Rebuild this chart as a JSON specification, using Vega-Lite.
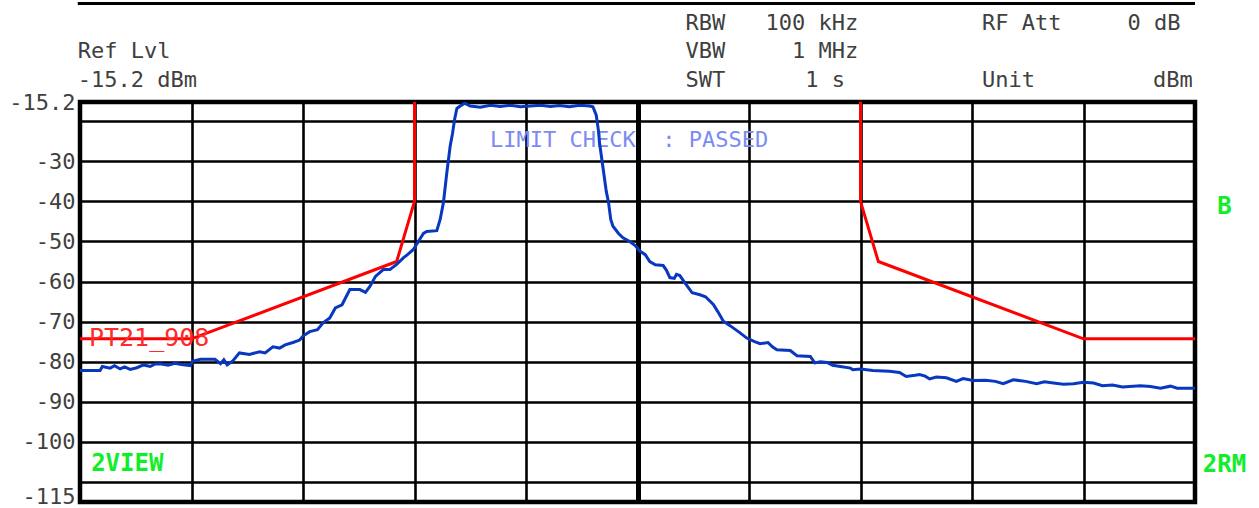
{
  "$schema": "https://vega.github.io/schema/vega-lite/v6.json",
  "autosize": {"type": "none"},
  "width": 1115,
  "height": 400,
  "padding": {"left": 80, "top": 102, "right": 64, "bottom": 6},
  "background": "white",
  "config": {
    "view": {"stroke": "black", "strokeWidth": 4.5},
    "font": "DejaVu Sans Mono"
  },
  "datasets": {
    "trace": [
      {"i":1,"div":0,"dbm":-82.2},{"i":2,"div":0.18,"dbm":-82.2},{"i":3,"div":0.2,"dbm":-81.2},{"i":4,"div":0.27,"dbm":-81.6},
      {"i":5,"div":0.31,"dbm":-81.0},{"i":6,"div":0.36,"dbm":-81.8},{"i":7,"div":0.4,"dbm":-81.3},{"i":8,"div":0.45,"dbm":-81.9},
      {"i":9,"div":0.51,"dbm":-81.5},{"i":10,"div":0.57,"dbm":-80.8},{"i":11,"div":0.63,"dbm":-81.2},{"i":12,"div":0.67,"dbm":-80.6},
      {"i":13,"div":0.72,"dbm":-80.5},{"i":14,"div":0.79,"dbm":-80.9},{"i":15,"div":0.85,"dbm":-80.4},{"i":16,"div":0.91,"dbm":-80.7},
      {"i":17,"div":0.99,"dbm":-81.0},{"i":18,"div":1.01,"dbm":-79.9},{"i":19,"div":1.08,"dbm":-79.4},{"i":20,"div":1.21,"dbm":-79.4},
      {"i":21,"div":1.26,"dbm":-80.5},{"i":22,"div":1.29,"dbm":-79.5},{"i":23,"div":1.32,"dbm":-80.8},{"i":24,"div":1.37,"dbm":-79.8},
      {"i":25,"div":1.43,"dbm":-77.8},{"i":26,"div":1.52,"dbm":-78.2},{"i":27,"div":1.61,"dbm":-77.5},{"i":28,"div":1.66,"dbm":-77.8},
      {"i":29,"div":1.73,"dbm":-76.3},{"i":30,"div":1.79,"dbm":-76.6},{"i":31,"div":1.84,"dbm":-75.8},{"i":32,"div":1.91,"dbm":-75.2},
      {"i":33,"div":1.97,"dbm":-74.6},{"i":34,"div":2.0,"dbm":-73.6},{"i":35,"div":2.06,"dbm":-72.5},{"i":36,"div":2.13,"dbm":-72.0},
      {"i":37,"div":2.18,"dbm":-70.3},{"i":38,"div":2.24,"dbm":-69.1},{"i":39,"div":2.29,"dbm":-66.6},{"i":40,"div":2.35,"dbm":-65.8},
      {"i":41,"div":2.42,"dbm":-62.0},{"i":42,"div":2.51,"dbm":-62.0},{"i":43,"div":2.56,"dbm":-62.7},{"i":44,"div":2.6,"dbm":-61.2},
      {"i":45,"div":2.65,"dbm":-58.7},{"i":46,"div":2.72,"dbm":-57.0},{"i":47,"div":2.78,"dbm":-57.0},{"i":48,"div":2.84,"dbm":-55.7},
      {"i":49,"div":2.9,"dbm":-54.1},{"i":50,"div":2.94,"dbm":-53.2},{"i":51,"div":2.99,"dbm":-52.0},{"i":52,"div":3.05,"dbm":-49.3},
      {"i":53,"div":3.08,"dbm":-48.0},{"i":54,"div":3.11,"dbm":-47.5},{"i":55,"div":3.2,"dbm":-47.3},{"i":56,"div":3.23,"dbm":-44.5},
      {"i":57,"div":3.26,"dbm":-40.2},{"i":58,"div":3.29,"dbm":-32.8},{"i":59,"div":3.32,"dbm":-26.2},{"i":60,"div":3.34,"dbm":-23.2},
      {"i":61,"div":3.36,"dbm":-19.5},{"i":62,"div":3.38,"dbm":-16.8},{"i":63,"div":3.41,"dbm":-16.2},{"i":64,"div":3.45,"dbm":-15.5},
      {"i":65,"div":3.5,"dbm":-16.2},{"i":66,"div":3.59,"dbm":-16.5},{"i":67,"div":3.68,"dbm":-16.0},{"i":68,"div":3.77,"dbm":-16.3},
      {"i":69,"div":3.86,"dbm":-16.0},{"i":70,"div":3.95,"dbm":-16.4},{"i":71,"div":4.04,"dbm":-16.2},{"i":72,"div":4.13,"dbm":-16.0},
      {"i":73,"div":4.22,"dbm":-16.3},{"i":74,"div":4.3,"dbm":-16.1},{"i":75,"div":4.39,"dbm":-16.4},{"i":76,"div":4.48,"dbm":-16.0},
      {"i":77,"div":4.57,"dbm":-16.2},{"i":78,"div":4.6,"dbm":-16.4},{"i":79,"div":4.63,"dbm":-18.5},{"i":80,"div":4.65,"dbm":-22.4},
      {"i":81,"div":4.66,"dbm":-25.5},{"i":82,"div":4.69,"dbm":-31.5},{"i":83,"div":4.72,"dbm":-37.5},{"i":84,"div":4.74,"dbm":-40.2},
      {"i":85,"div":4.76,"dbm":-44.5},{"i":86,"div":4.78,"dbm":-46.2},{"i":87,"div":4.83,"dbm":-48.0},{"i":88,"div":4.87,"dbm":-49.1},
      {"i":89,"div":4.93,"dbm":-50.0},{"i":90,"div":4.98,"dbm":-51.0},{"i":91,"div":5.02,"dbm":-52.4},{"i":92,"div":5.07,"dbm":-53.3},
      {"i":93,"div":5.11,"dbm":-55.0},{"i":94,"div":5.16,"dbm":-55.8},{"i":95,"div":5.23,"dbm":-56.0},{"i":96,"div":5.26,"dbm":-57.2},
      {"i":97,"div":5.29,"dbm":-59.0},{"i":98,"div":5.33,"dbm":-59.2},{"i":99,"div":5.35,"dbm":-58.2},{"i":100,"div":5.38,"dbm":-58.5},
      {"i":101,"div":5.43,"dbm":-60.5},{"i":102,"div":5.49,"dbm":-62.8},{"i":103,"div":5.56,"dbm":-63.3},{"i":104,"div":5.61,"dbm":-63.8},
      {"i":105,"div":5.68,"dbm":-65.7},{"i":106,"div":5.72,"dbm":-67.5},{"i":107,"div":5.77,"dbm":-69.9},{"i":108,"div":5.83,"dbm":-71.0},
      {"i":109,"div":5.92,"dbm":-72.8},{"i":110,"div":5.98,"dbm":-74.1},{"i":111,"div":6.05,"dbm":-75.0},{"i":112,"div":6.1,"dbm":-75.5},
      {"i":113,"div":6.17,"dbm":-75.2},{"i":114,"div":6.21,"dbm":-76.3},{"i":115,"div":6.25,"dbm":-77.0},{"i":116,"div":6.37,"dbm":-77.2},
      {"i":117,"div":6.43,"dbm":-78.5},{"i":118,"div":6.55,"dbm":-78.7},{"i":119,"div":6.59,"dbm":-80.3},{"i":120,"div":6.64,"dbm":-80.0},
      {"i":121,"div":6.7,"dbm":-80.2},{"i":122,"div":6.75,"dbm":-80.9},{"i":123,"div":6.82,"dbm":-81.2},{"i":124,"div":6.91,"dbm":-81.6},
      {"i":125,"div":6.93,"dbm":-82.0},{"i":126,"div":7.0,"dbm":-81.8},{"i":127,"div":7.11,"dbm":-82.2},{"i":128,"div":7.26,"dbm":-82.4},
      {"i":129,"div":7.35,"dbm":-82.7},{"i":130,"div":7.41,"dbm":-83.7},{"i":131,"div":7.49,"dbm":-83.4},{"i":132,"div":7.53,"dbm":-83.2},
      {"i":133,"div":7.58,"dbm":-83.6},{"i":134,"div":7.62,"dbm":-84.3},{"i":135,"div":7.68,"dbm":-83.8},{"i":136,"div":7.77,"dbm":-84.0},
      {"i":137,"div":7.86,"dbm":-84.9},{"i":138,"div":7.92,"dbm":-84.2},{"i":139,"div":8.01,"dbm":-84.7},{"i":140,"div":8.12,"dbm":-84.6},
      {"i":141,"div":8.21,"dbm":-84.9},{"i":142,"div":8.28,"dbm":-85.5},{"i":143,"div":8.37,"dbm":-84.5},{"i":144,"div":8.48,"dbm":-84.9},
      {"i":145,"div":8.58,"dbm":-85.5},{"i":146,"div":8.65,"dbm":-85.0},{"i":147,"div":8.73,"dbm":-85.3},{"i":148,"div":8.82,"dbm":-85.6},
      {"i":149,"div":8.91,"dbm":-85.5},{"i":150,"div":9.0,"dbm":-85.1},{"i":151,"div":9.09,"dbm":-85.3},{"i":152,"div":9.17,"dbm":-86.0},
      {"i":153,"div":9.26,"dbm":-85.8},{"i":154,"div":9.35,"dbm":-86.3},{"i":155,"div":9.51,"dbm":-86.0},{"i":156,"div":9.6,"dbm":-86.2},
      {"i":157,"div":9.69,"dbm":-86.6},{"i":158,"div":9.78,"dbm":-86.1},{"i":159,"div":9.84,"dbm":-86.6},{"i":160,"div":10.0,"dbm":-86.6}
    ],
    "limit": [
      {"seg":"L","i":1,"div":0,"dbm":-74.3},{"seg":"L","i":2,"div":1.0,"dbm":-74.3},{"seg":"L","i":3,"div":2.84,"dbm":-55.0},
      {"seg":"L","i":4,"div":3.0,"dbm":-40.0},{"seg":"L","i":5,"div":3.0,"dbm":-15.2},
      {"seg":"R","i":1,"div":7.0,"dbm":-15.2},{"seg":"R","i":2,"div":7.0,"dbm":-40.0},{"seg":"R","i":3,"div":7.16,"dbm":-55.0},
      {"seg":"R","i":4,"div":9.0,"dbm":-74.3},{"seg":"R","i":5,"div":10.0,"dbm":-74.3}
    ]
  },
  "layer": [
    {
      "data": {"values": [{"x1": -0.02, "x2": 10.0, "y": 9.38}]},
      "mark": {"type": "rule", "color": "black", "strokeWidth": 3, "clip": false},
      "encoding": {
        "x": {"field": "x1", "type": "quantitative", "scale": {"domain": [0, 10], "nice": false, "zero": false},
          "axis": {"values": [1,2,3,4,5,6,7,8,9], "tickCount": 20, "grid": true, "labels": false, "ticks": false, "domain": false, "title": null,
            "gridColor": "black", "gridOpacity": 1,
            "gridWidth": {"condition": {"test": "datum.value === 5", "value": 5}, "value": 2.6}}},
        "x2": {"field": "x2"},
        "y": {"field": "y", "type": "quantitative", "scale": {"domain": [-115, -15.2], "nice": false, "zero": false},
          "axis": {"values": [-15.2,-20,-30,-40,-50,-60,-70,-80,-90,-100,-110,-115], "tickCount": 30, "grid": true, "gridColor": "black", "gridOpacity": 1, "gridWidth": 2.6,
            "ticks": false, "tickSize": 0, "domain": false, "title": null, "labelPadding": 5, "labelOverlap": false, "labelBound": false,
            "labelFont": "DejaVu Sans Mono", "labelFontSize": 22, "labelColor": "#404040", "labelBaseline": "middle",
            "labelOffset": {"condition": {"test": "datum.value == -115", "value": -6}, "value": 0},
            "labelExpr": "(datum.value == -20 || datum.value == -110) ? '' : '' + datum.value"}}
      }
    },
    {
      "data": {"name": "limit"},
      "mark": {"type": "line", "color": "#ff0000", "strokeWidth": 3, "clip": true},
      "encoding": {
        "x": {"field": "div", "type": "quantitative"},
        "y": {"field": "dbm", "type": "quantitative"},
        "detail": {"field": "seg"},
        "order": {"field": "i"}
      }
    },
    {
      "data": {"values": [{"div": 3.677, "dbm": -24.7, "label": "LIMIT CHECK\u00a0\u00a0: PASSED"}]},
      "mark": {"type": "text", "align": "left", "baseline": "middle", "font": "DejaVu Sans Mono", "fontSize": 22, "color": "#7b8bf2"},
      "encoding": {"x": {"field": "div", "type": "quantitative"}, "y": {"field": "dbm", "type": "quantitative"}, "text": {"field": "label"}}
    },
    {
      "data": {"values": [{"div": 0.08, "dbm": -74.0, "label": "PT21_908"}]},
      "mark": {"type": "text", "align": "left", "baseline": "middle", "font": "DejaVu Sans Mono", "fontSize": 25, "color": "#ff2a2a"},
      "encoding": {"x": {"field": "div", "type": "quantitative"}, "y": {"field": "dbm", "type": "quantitative"}, "text": {"field": "label"}}
    },
    {
      "data": {"name": "trace"},
      "mark": {"type": "line", "color": "#0838c0", "strokeWidth": 3, "clip": true},
      "encoding": {
        "x": {"field": "div", "type": "quantitative"},
        "y": {"field": "dbm", "type": "quantitative"},
        "order": {"field": "i"}
      }
    },
    {
      "data": {"values": [
        {"div": -0.02, "dbm": -2.6, "label": "Ref Lvl"},
        {"div": -0.02, "dbm": -9.59, "label": "-15.2 dBm"},
        {"div": 5.43, "dbm": 4.51, "label": "RBW"},
        {"div": 5.43, "dbm": -2.6, "label": "VBW"},
        {"div": 5.43, "dbm": -9.59, "label": "SWT"},
        {"div": 8.09, "dbm": 4.51, "label": "RF Att"},
        {"div": 8.09, "dbm": -9.59, "label": "Unit"}
      ]},
      "mark": {"type": "text", "align": "left", "baseline": "middle", "font": "DejaVu Sans Mono", "fontSize": 22, "color": "#404040", "clip": false},
      "encoding": {"x": {"field": "div", "type": "quantitative"}, "y": {"field": "dbm", "type": "quantitative"}, "text": {"field": "label"}}
    },
    {
      "data": {"values": [
        {"div": 6.98, "dbm": 4.51, "label": "100 kHz"},
        {"div": 6.98, "dbm": -2.6, "label": "1 MHz"},
        {"div": 6.86, "dbm": -9.59, "label": "1 s"},
        {"div": 9.87, "dbm": 4.51, "label": "0 dB"},
        {"div": 9.98, "dbm": -9.59, "label": "dBm"}
      ]},
      "mark": {"type": "text", "align": "right", "baseline": "middle", "font": "DejaVu Sans Mono", "fontSize": 22, "color": "#404040", "clip": false},
      "encoding": {"x": {"field": "div", "type": "quantitative"}, "y": {"field": "dbm", "type": "quantitative"}, "text": {"field": "label"}}
    },
    {
      "data": {"values": [
        {"div": 0.1, "dbm": -105.5, "label": "2VIEW"},
        {"div": 10.07, "dbm": -105.7, "label": "2RM"},
        {"div": 10.2, "dbm": -41.3, "label": "B"}
      ]},
      "mark": {"type": "text", "align": "left", "baseline": "middle", "font": "DejaVu Sans Mono", "fontSize": 24, "fontWeight": "bold", "color": "#10ee2a", "clip": false},
      "encoding": {"x": {"field": "div", "type": "quantitative"}, "y": {"field": "dbm", "type": "quantitative"}, "text": {"field": "label"}}
    }
  ]
}
